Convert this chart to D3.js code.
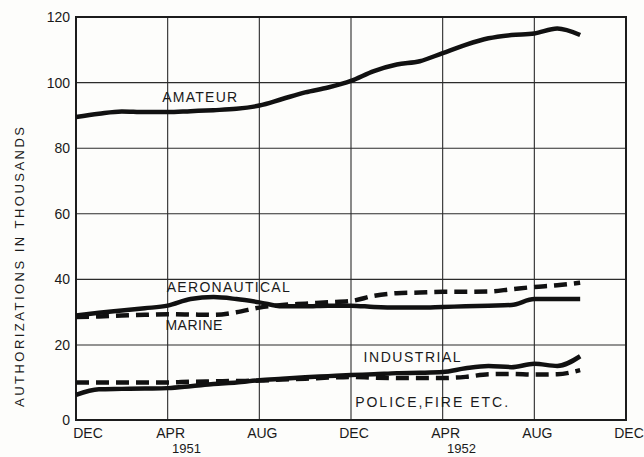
<!DOCTYPE html>
<html>
<head>
<meta charset="utf-8">
<script src="https://cdn.jsdelivr.net/npm/d3@7"></script>
<style>
    html, body { margin: 0; padding: 0; background: #fdfdfb; }
    svg { display: block; font-family: "Liberation Sans", Arial, sans-serif; }
</style>
</head>
<body>
<div id="chart"></div>
<script>
// months counted from DEC 1950 (0) up to OCT 1952 (22)
var months = d3.range(0, 23);

var amateur = [89.5, 90.5, 91.2, 91, 91, 91.3, 91.6, 92, 93, 95, 97, 98.5,
    100.5, 103.5, 105.5, 106.5, 109, 111.5, 113.5, 114.5, 115, 116.5, 114.5];
var aeronautical = [29, 29.8, 30.5, 31.2, 32, 34, 34.6, 34, 33, 31.8, 31.8, 32,
    32, 31.6, 31.4, 31.4, 31.6, 31.8, 32, 32.2, 34, 34, 34];
var marine = [28.5, 28.7, 29, 29.2, 29.4, 29.3, 29.2, 30, 31.4, 32.2, 32.6, 33,
    33.4, 35, 35.8, 36, 36.2, 36.2, 36.3, 37, 37.7, 38.2, 39];
var industrial = [6.7, 8.2, 8.3, 8.4, 8.5, 9, 9.6, 10, 10.6, 11, 11.4, 11.7,
    12, 12.2, 12.5, 12.6, 12.8, 13.8, 14.4, 14.1, 15, 14.4, 17];
var police = [10, 10, 10, 10, 10, 10.2, 10.3, 10.4, 10.5, 10.8, 11, 11.3,
    11.5, 11.3, 11.2, 11.2, 11.2, 11.5, 12.2, 12.3, 12.1, 12.2, 13.3];

var xTicks = [0, 4, 8, 12, 16, 20, 24];
var xTickLabels = ["DEC", "APR", "AUG", "DEC", "APR", "AUG", "DEC"];
var yearMonths = [5, 17];
var yearLabels = ["1951", "1952"];
var yTicks = [0, 20, 40, 60, 80, 100, 120];

var seriesNames = ["AMATEUR", "AERONAUTICAL", "MARINE", "INDUSTRIAL", "POLICE, FIRE ETC."];

(function () {
    "use strict";

    var width = 644,
        height = 457;

    var x = d3.scaleLinear()
        .domain([0, 24])
        .range([76, 626]);

    // the original drawing has a slightly taller bottom band
    var y = d3.scaleLinear()
        .domain([0, 20, 120])
        .range([420, 345, 17]);

    var svg = d3.select("#chart").append("svg")
        .attr("width", width)
        .attr("height", height);

    svg.append("rect")
        .attr("width", width)
        .attr("height", height)
        .attr("fill", "#fdfdfb");

    // grid
    var grid = svg.append("g").attr("stroke", "#2b2b2b").attr("stroke-width", 1.1);

    grid.selectAll("line.h")
        .data(yTicks)
        .enter().append("line")
        .attr("class", "h")
        .attr("x1", x(0)).attr("x2", x(24))
        .attr("y1", d => y(d)).attr("y2", d => y(d));

    grid.selectAll("line.v")
        .data(xTicks)
        .enter().append("line")
        .attr("class", "v")
        .attr("x1", d => x(d)).attr("x2", d => x(d))
        .attr("y1", y(0)).attr("y2", y(120));

    // frame
    svg.append("rect")
        .attr("x", x(0))
        .attr("y", y(120))
        .attr("width", x(24) - x(0))
        .attr("height", y(0) - y(120))
        .attr("fill", "none")
        .attr("stroke", "#1c1c1c")
        .attr("stroke-width", 2);

    // tick labels
    var textColor = "#1a1a1a";

    svg.selectAll("text.ytick")
        .data(yTicks)
        .enter().append("text")
        .attr("class", "ytick")
        .attr("x", 70)
        .attr("y", d => y(d))
        .attr("dy", "0.36em")
        .attr("text-anchor", "end")
        .attr("font-size", 14)
        .attr("fill", textColor)
        .text(d => d);

    svg.selectAll("text.xtick")
        .data(xTicks)
        .enter().append("text")
        .attr("class", "xtick")
        .attr("x", (d, i) => i === 0 ? x(d) + 12 : x(d) + 3)
        .attr("y", 438)
        .attr("text-anchor", "middle")
        .attr("font-size", 14)
        .attr("fill", textColor)
        .text((d, i) => xTickLabels[i]);

    svg.selectAll("text.year")
        .data(yearMonths)
        .enter().append("text")
        .attr("class", "year")
        .attr("x", d => x(d) - 4)
        .attr("y", 453)
        .attr("text-anchor", "middle")
        .attr("font-size", 13)
        .attr("fill", textColor)
        .text((d, i) => yearLabels[i]);

    svg.append("text")
        .attr("transform", "translate(24," + 267 + ") rotate(-90)")
        .attr("text-anchor", "middle")
        .attr("font-size", 13)
        .attr("fill", textColor)
        .attr("textLength", 280)
        .attr("lengthAdjust", "spacing")
        .text("AUTHORIZATIONS  IN  THOUSANDS");

    // series lines
    var line = d3.line()
        .x((d, i) => x(months[i]))
        .y(d => y(d))
        .curve(d3.curveMonotoneX);

    var series = [
        {values: amateur, dash: null},
        {values: aeronautical, dash: null},
        {values: marine, dash: "13,7"},
        {values: industrial, dash: null},
        {values: police, dash: "13,7"}
    ];

    svg.selectAll("path.series")
        .data(series)
        .enter().append("path")
        .attr("class", "series")
        .attr("fill", "none")
        .attr("stroke", "#111")
        .attr("stroke-width", 4.5)
        .attr("stroke-linejoin", "round")
        .attr("stroke-dasharray", d => d.dash)
        .attr("d", d => line(d.values));

    // inline labels: [month, value, width]
    var labelPos = [
        [3.76, 94.2, 75],
        [3.96, 36.2, 123],
        [3.9, 24.6, 57],
        [12.55, 15.5, 97],
        [12.18, 3.4, 153]
    ];

    svg.selectAll("text.label")
        .data(seriesNames)
        .enter().append("text")
        .attr("class", "label")
        .attr("x", (d, i) => x(labelPos[i][0]))
        .attr("y", (d, i) => y(labelPos[i][1]))
        .attr("font-size", 14)
        .attr("fill", textColor)
        .attr("textLength", (d, i) => labelPos[i][2])
        .attr("lengthAdjust", "spacing")
        .text(d => d.replace(", ", ","));
})();
</script>
</body>
</html>
